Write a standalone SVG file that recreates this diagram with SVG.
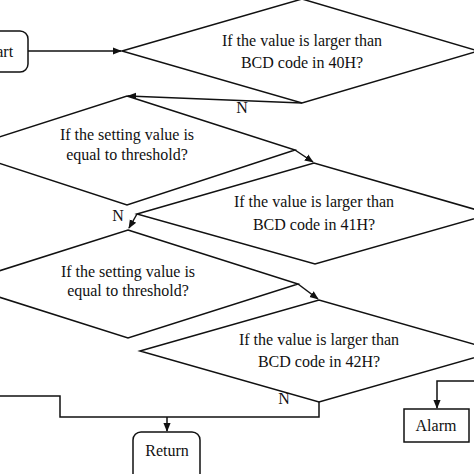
<svg xmlns="http://www.w3.org/2000/svg" width="474" height="474" viewBox="0 0 474 474">
<defs>
<style>
.s{fill:none;stroke:#111;stroke-width:1.5}
.b{fill:#fff;stroke:#111;stroke-width:1.5}
text{font-family:"Liberation Serif","Times New Roman",serif;font-size:16px;fill:#111;text-anchor:middle}
</style>
<marker id="a" viewBox="0 0 10 10" refX="9" refY="5" markerWidth="9" markerHeight="9" markerUnits="userSpaceOnUse" orient="auto">
<path d="M0,1 L10,5 L0,9 Z" fill="#111"/>
</marker>
</defs>
<rect width="474" height="474" fill="#fff"/>
<g id="connectors" class="s">
<path d="M28,51 H121" marker-end="url(#a)"/>
<path d="M302,103 L128,96" marker-end="url(#a)"/>
<path d="M295,150 L313,162" marker-end="url(#a)"/>
<path d="M137,214 L129,228" marker-end="url(#a)"/>
<path d="M298,284 L318,299" marker-end="url(#a)"/>
<path d="M0,396 H60 V417 H319 V402"/>
<path d="M167,417 V431" marker-end="url(#a)"/>
<path d="M474,381 H437 V408" marker-end="url(#a)"/>
</g>
<g id="start">
<rect class="b" x="-30" y="31" width="58" height="41" rx="8"/>
<text x="-2" y="57">Start</text>
</g>
<g id="d1">
<polygon class="b" points="122,51 302,-1 478,51 302,103"/>
<text x="302" y="46">If the value is larger than</text>
<text x="302" y="68">BCD code in 40H?</text>
</g>
<g id="d2">
<polygon class="b" points="127,96 295,150 127,205 -41,150"/>
<text x="127" y="140">If the setting value is</text>
<text x="127" y="160">equal to threshold?</text>
</g>
<g id="d3">
<polygon class="b" points="137,214 314,163 491,214 315,264"/>
<text x="314" y="207">If the value is larger than</text>
<text x="314" y="230">BCD code in 41H?</text>
</g>
<g id="d4">
<polygon class="b" points="128,230 298,284 128,338 -42,284"/>
<text x="128" y="277">If the setting value is</text>
<text x="128" y="296">equal to threshold?</text>
</g>
<g id="d5">
<polygon class="b" points="140,351 319,300 498,351 319,402"/>
<text x="319" y="345">If the value is larger than</text>
<text x="319" y="367">BCD code in 42H?</text>
</g>
<g id="labels">
<text x="242" y="113">N</text>
<text x="118" y="221">N</text>
<text x="284" y="404">N</text>
</g>
<g id="return">
<rect class="b" x="133" y="432" width="67" height="50" rx="8"/>
<text x="167" y="456">Return</text>
</g>
<g id="alarm">
<rect class="b" x="404" y="409" width="65" height="33"/>
<text x="436" y="431">Alarm</text>
</g>
</svg>
